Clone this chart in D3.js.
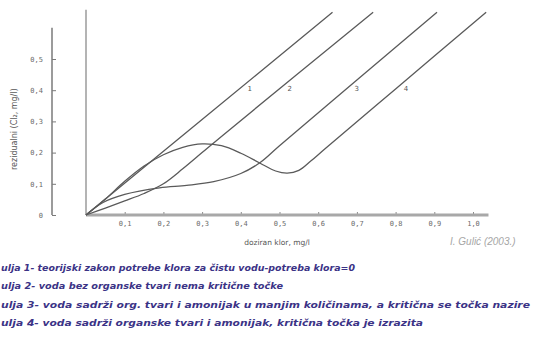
<!DOCTYPE html>
<html>
<head>
<meta charset="utf-8">
<script src="https://cdn.jsdelivr.net/npm/d3@7/dist/d3.min.js"></script>
<style>
  html, body { margin: 0; padding: 0; background: #ffffff; }
  svg { display: block; }
</style>
</head>
<body>
<svg id="chart" width="543" height="356"></svg>
<script>
// ---- data ----
const xTicks = [0.1, 0.2, 0.3, 0.4, 0.5, 0.6, 0.7, 0.8, 0.9, 1.0];
const xTickLabels = ["0,1", "0,2", "0,3", "0,4", "0,5", "0,6", "0,7", "0,8", "0,9", "1,0"];
const yTicks = [0, 0.1, 0.2, 0.3, 0.4, 0.5];
const yTickLabels = ["0", "0,1", "0,2", "0,3", "0,4", "0,5"];
const curveNames = ["1", "2", "3", "4"];

const curve1 = [[0, 0], [0.3, 0.306], [0.637, 0.65]];
const curve2 = [[0, 0], [0.05, 0.022], [0.1, 0.045], [0.15, 0.069], [0.2, 0.1], [0.25, 0.148], [0.3, 0.2], [0.35, 0.252], [0.742, 0.65]];
const curve3 = [[0, 0], [0.044, 0.04], [0.1, 0.066], [0.19, 0.087], [0.26, 0.095], [0.33, 0.107], [0.4, 0.133], [0.45, 0.168], [0.5, 0.222], [0.7, 0.433], [0.907, 0.65]];
const curve4 = [[0, 0], [0.05, 0.051], [0.1, 0.108], [0.15, 0.157], [0.2, 0.193], [0.25, 0.217], [0.3, 0.228], [0.35, 0.222], [0.4, 0.198], [0.45, 0.166], [0.49, 0.141], [0.52, 0.134], [0.55, 0.143], [0.58, 0.172], [0.62, 0.215], [0.8, 0.404], [1.034, 0.65]];
const curves = [curve1, curve2, curve3, curve4];
const labelLevel = 0.405;

const xTitle = "doziran klor, mg/l";
const yTitle = "rezidualni (Cl₂, mg/l)";
const source = "I. Gulić (2003.)";
const legendLines = [
  "ulja 1- teorijski zakon potrebe klora za čistu vodu-potreba klora=0",
  "ulja 2- voda bez organske tvari nema kritične točke",
  "ulja 3- voda sadrži org. tvari i amonijak u manjim količinama, a kritična se točka nazire",
  "ulja 4- voda sadrži organske tvari i amonijak, kritična točka je izrazita"
];

// ---- layout ----
const svg = d3.select("#chart");
const x = d3.scaleLinear().domain([0, 1]).range([86, 473]);
const y = d3.scaleLinear().domain([0, 0.5]).range([215, 59]);

// left frame line of plot
svg.append("line")
  .attr("x1", x(0)).attr("x2", x(0))
  .attr("y1", y(0)).attr("y2", y(0.658))
  .attr("stroke", "#b4b4b4").attr("stroke-width", 2);

// y axis (detached, at x=52)
const yAxis = d3.axisLeft(y).tickValues(yTicks)
  .tickFormat((d, i) => yTickLabels[i]).tickSize(-4).tickPadding(9);
const gy = svg.append("g").attr("transform", "translate(52,0)").call(yAxis);
gy.select(".domain").remove();
gy.append("line").attr("x1", 0).attr("x2", 0).attr("y1", y(0)).attr("y2", y(0.6))
  .attr("stroke", "#7a7a7a").attr("stroke-width", 1.5);
gy.selectAll(".tick line").attr("stroke", "#7a7a7a").attr("stroke-width", 1);
gy.selectAll(".tick text").attr("fill", "#6a6a6a")
  .style("font-family", "'DejaVu Sans Mono', monospace").style("font-size", "7px");

// x axis
const xAxis = d3.axisBottom(x).tickValues(xTicks)
  .tickFormat((d, i) => xTickLabels[i]).tickSize(-3).tickPadding(6);
const gx = svg.append("g").attr("transform", `translate(0,${y(0)})`).call(xAxis);
gx.select(".domain").remove();
gx.selectAll(".tick line").attr("stroke", "#8a8a8a").attr("stroke-width", 1);
gx.selectAll(".tick text").attr("fill", "#6a6a6a")
  .style("font-family", "'DejaVu Sans Mono', monospace").style("font-size", "7px");
svg.append("line")
  .attr("x1", x(0)).attr("x2", x(1.04))
  .attr("y1", y(0)).attr("y2", y(0))
  .attr("stroke", "#a8a8a8").attr("stroke-width", 3);

// curves
const line = d3.line().x(d => x(d[0])).y(d => y(d[1])).curve(d3.curveCatmullRom.alpha(0.5));
svg.selectAll("path.curve").data(curves).enter().append("path")
  .attr("class", "curve")
  .attr("d", line)
  .attr("fill", "none")
  .attr("stroke", "#5a5a5a")
  .attr("stroke-width", 1.3);

// curve number labels: just right of where each curve crosses labelLevel
function crossX(pts, level) {
  for (let i = pts.length - 1; i > 0; i--) {
    const a = pts[i - 1], b = pts[i];
    if ((a[1] - level) * (b[1] - level) <= 0 && b[1] !== a[1]) {
      return a[0] + (level - a[1]) * (b[0] - a[0]) / (b[1] - a[1]);
    }
  }
  return pts[pts.length - 1][0];
}
svg.selectAll("text.cl").data(curves).enter().append("text")
  .attr("class", "cl")
  .attr("x", d => x(crossX(d, labelLevel)) + 10)
  .attr("y", y(labelLevel) + 2.5)
  .attr("text-anchor", "middle")
  .attr("fill", "#555")
  .style("font-family", "'DejaVu Sans', sans-serif")
  .style("font-size", "7px")
  .text((d, i) => curveNames[i]);

// axis titles
svg.append("text")
  .attr("transform", `translate(17,${(y(0.13) + y(0.42)) / 2}) rotate(-90)`)
  .attr("text-anchor", "middle")
  .attr("fill", "#555")
  .style("font-family", "'DejaVu Sans', sans-serif")
  .style("font-size", "8px")
  .text(yTitle);
svg.append("text")
  .attr("x", 277).attr("y", 245)
  .attr("text-anchor", "middle")
  .attr("fill", "#555")
  .style("font-family", "'DejaVu Sans', sans-serif")
  .style("font-size", "7.5px")
  .text(xTitle);

// source
svg.append("text")
  .attr("x", 450).attr("y", 245)
  .attr("fill", "#a6a6a6")
  .style("font-family", "'Liberation Sans', Arial, sans-serif")
  .style("font-style", "italic")
  .style("font-size", "10px")
  .text(source);

// legend lines
const legendEnds = [355, 283, 530, 423];
const legendY = [271, 289, 308, 326];
legendLines.forEach((txt, i) => {
  svg.append("text")
    .attr("x", 1)
    .attr("y", legendY[i])
    .attr("fill", "#3b3386")
    .attr("textLength", legendEnds[i] - 1)
    .attr("lengthAdjust", "spacingAndGlyphs")
    .style("font-family", "'DejaVu Sans', sans-serif")
    .style("font-style", "italic")
    .style("font-weight", "bold")
    .style("font-size", "8.5px")
    .text(txt);
});
</script>
</body>
</html>
